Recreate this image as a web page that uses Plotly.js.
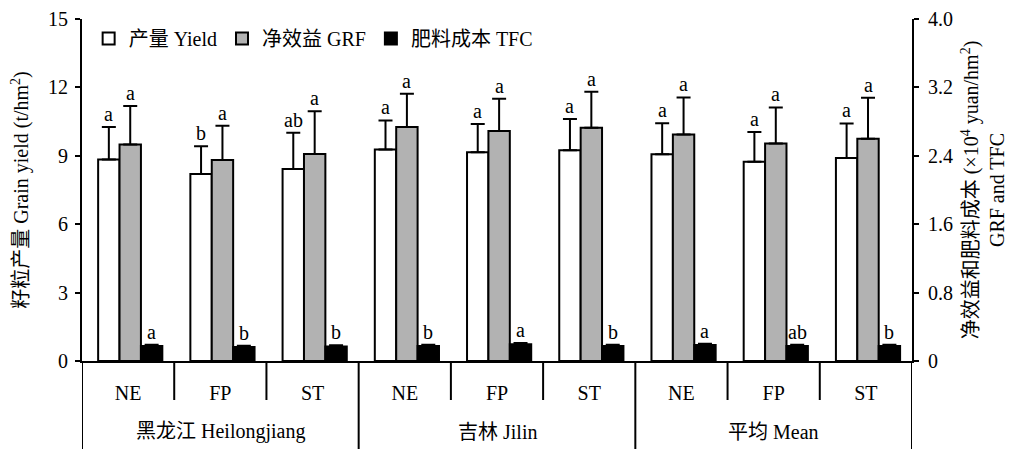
<!DOCTYPE html>
<html>
<head>
<meta charset="utf-8">
<script src="https://cdn.plot.ly/plotly-3.0.1.min.js"></script>
<style>html,body{margin:0;padding:0;background:#fff;}#chart{width:1014px;height:449px;}</style>
</head>
<body>
<div id="chart"></div>
<script>
// ---- data ----
const groups = ["黑龙江 Heilongjiang", "吉林 Jilin", "平均 Mean"];
const treatments = ["NE", "FP", "ST"];
const tickLabels = ["NE","FP","ST","NE","FP","ST","NE","FP","ST"];

const yieldVals = [8.84, 8.20, 8.42, 9.28, 9.16, 9.24, 9.07, 8.74, 8.90];
const yieldErr  = [1.42, 1.22, 1.59, 1.27, 1.24, 1.37, 1.36, 1.30, 1.52];
const yieldSig  = ["a","b","ab","a","a","a","a","a","a"];

const grfVals = [2.533, 2.350, 2.420, 2.736, 2.689, 2.728, 2.650, 2.545, 2.599];
const grfErr  = [0.449, 0.401, 0.500, 0.390, 0.378, 0.421, 0.433, 0.421, 0.480];
const grfSig  = ["a","a","a","a","a","a","a","a","a"];

const tfcVals = [0.176, 0.164, 0.170, 0.176, 0.195, 0.176, 0.187, 0.176, 0.176];
const tfcErr  = [0.015, 0.015, 0.015, 0.015, 0.015, 0.015, 0.015, 0.015, 0.015];
const tfcSig  = ["a","b","b","b","a","b","a","ab","b"];

const leftTicks = [0, 3, 6, 9, 12, 15];
const rightTicks = [0, 0.8, 1.6, 2.4, 3.2, 4.0];
const rightTickText = ["0", "0.8", "1.6", "2.4", "3.2", "4.0"];

// ---- build ----
const FONT = "'Liberation Serif', 'Times New Roman', 'Noto Sans CJK SC', serif";
const FS = 20;
const xIdx = tickLabels.map((_, i) => i);
const W = 0.232;
const OFF = [-0.325, -0.093, 0.139];

function barTrace(name, vals, errs, fill, axis, k) {
  return {
    type: "bar", name: name, x: xIdx, y: vals, yaxis: axis,
    width: W, offset: OFF[k],
    marker: {color: fill, line: {color: "#000", width: 2}},
    error_y: {type: "data", array: errs, arrayminus: errs.map(() => 0), symmetric: false,
              visible: true, color: "#000", thickness: 2, width: 7},
    hoverinfo: "skip"
  };
}

const traces = [
  barTrace("产量 Yield", yieldVals, yieldErr, "#ffffff", "y", 0),
  barTrace("净效益 GRF", grfVals, grfErr, "#b2b2b2", "y2", 1),
  barTrace("肥料成本 TFC", tfcVals, tfcErr, "#000000", "y2", 2)
];

const annotations = [];
function addSig(vals, errs, sigs, axis, k) {
  vals.forEach((v, i) => {
    annotations.push({
      x: i + OFF[k] + W / 2, y: v + errs[i], xref: "x", yref: axis,
      text: sigs[i], showarrow: false, yanchor: "bottom", xanchor: "center",
      yshift: 0, font: {family: FONT, size: FS, color: "#000"}
    });
  });
}
addSig(yieldVals, yieldErr, yieldSig, "y", 0);
addSig(grfVals, grfErr, grfSig, "y2", 1);
addSig(tfcVals, tfcErr, tfcSig, "y2", 2);

const plotH = 449 - 19 - 88;
const bottomP = -88 / plotH;
const subP = -39 / plotH;
const groupLabelP = (361 - 432) / plotH;

groups.forEach((g, gi) => {
  annotations.push({
    x: gi * treatments.length + (treatments.length - 1) / 2, y: groupLabelP,
    xref: "x", yref: "paper", text: g, showarrow: false,
    yanchor: "middle", xanchor: "center",
    font: {family: FONT, size: FS, color: "#000"}
  });
});

const shapes = [];
const nCat = tickLabels.length;
for (let b = 0; b <= nCat; b++) {
  const isGroup = (b % treatments.length === 0);
  shapes.push({
    type: "line", xref: "x", yref: "paper",
    x0: b - 0.5, x1: b - 0.5, y0: 0, y1: isGroup ? bottomP - 0.01 : subP,
    line: {color: "#000", width: 2}
  });
}

const layout = {
  width: 1014, height: 449,
  margin: {l: 82, r: 102, t: 19, b: 88},
  paper_bgcolor: "#fff", plot_bgcolor: "#fff",
  font: {family: FONT, size: FS, color: "#000"},
  showlegend: true,
  legend: {
    orientation: "h", x: 0.008, y: 1.0, xanchor: "left", yanchor: "top",
    bgcolor: "rgba(0,0,0,0)", font: {family: FONT, size: FS, color: "#000"},
    traceorder: "normal"
  },
  xaxis: {
    range: [-0.5, nCat - 0.5], tickmode: "array", tickvals: xIdx, ticktext: tickLabels,
    ticks: "", showline: true, linecolor: "#000", linewidth: 2, showgrid: false,
    zeroline: false, ticklabelstandoff: 13, tickfont: {family: FONT, size: FS}
  },
  yaxis: {
    range: [0, 15], tickmode: "array", tickvals: leftTicks, ticks: "outside", ticklen: 5,
    tickwidth: 2, tickcolor: "#000", showline: true, linecolor: "#000", linewidth: 2,
    showgrid: false, zeroline: false, ticklabelstandoff: 3, tickfont: {family: FONT, size: FS},
    title: {text: "籽粒产量 Grain yield (t/hm<sup>2</sup>)", font: {family: FONT, size: FS}, standoff: 14}
  },
  yaxis2: {
    range: [0, 4], overlaying: "y", side: "right", tickmode: "array",
    tickvals: rightTicks, ticktext: rightTickText, ticks: "outside", ticklen: 5,
    tickwidth: 2, tickcolor: "#000", showline: true, linecolor: "#000", linewidth: 2,
    showgrid: false, zeroline: false, ticklabelstandoff: 5, tickfont: {family: FONT, size: FS},
    title: {text: "净效益和肥料成本 (×10<sup>4</sup> yuan/hm<sup>2</sup>)<br>GRF and TFC", font: {family: FONT, size: FS}, standoff: 12}
  },
  bargap: 0, annotations: annotations, shapes: shapes
};

Plotly.newPlot("chart", traces, layout, {displayModeBar: false, staticPlot: true});
</script>
</body>
</html>
